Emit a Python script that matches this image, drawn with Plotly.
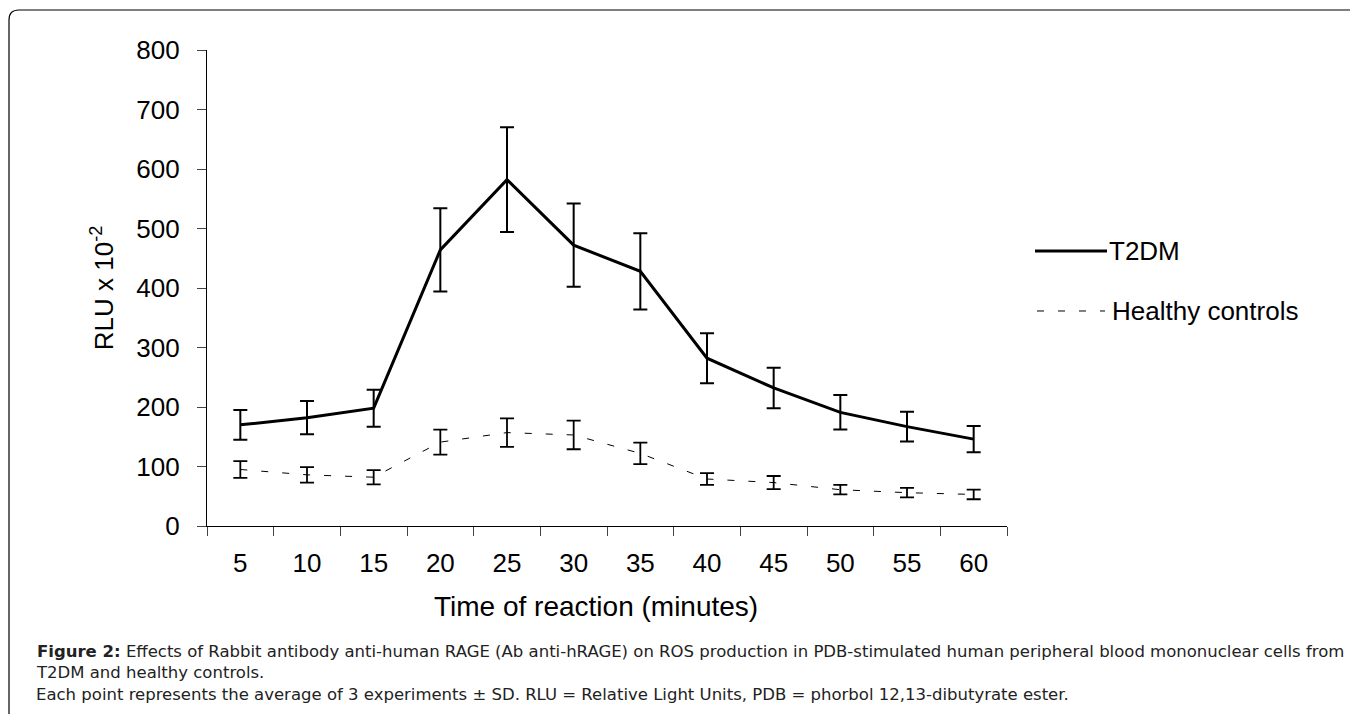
import plotly.graph_objects as go

# ---- data ----
times = ["5", "10", "15", "20", "25", "30", "35", "40", "45", "50", "55", "60"]
t2dm = [170, 182, 198, 464, 582, 472, 428, 282, 232, 191, 167, 146]
t2dm_sd = [25, 28, 31, 70, 88, 70, 64, 42, 34, 29, 25, 22]
healthy = [95, 86, 82, 141, 157, 153, 122, 79, 73, 61, 56, 53]
healthy_sd = [14, 13, 12, 21, 24, 24, 18, 10, 11, 8, 8, 8]

y_ticks = [0, 100, 200, 300, 400, 500, 600, 700, 800]

FONT = "Liberation Sans, Arial, sans-serif"
CAP_FONT = "DejaVu Sans, Liberation Sans, sans-serif"
CAP = 16.5

fig = go.Figure()
fig.add_trace(go.Scatter(
    x=times, y=t2dm, mode="lines", name="T2DM",
    line=dict(color="black", width=3),
    error_y=dict(type="data", array=t2dm_sd, visible=True,
                 color="black", thickness=2, width=7),
    showlegend=False,
))
fig.add_trace(go.Scatter(
    x=times, y=healthy, mode="lines", name="Healthy controls",
    line=dict(color="black", width=1, dash="7px,14px"),
    error_y=dict(type="data", array=healthy_sd, visible=True,
                 color="black", thickness=1.8, width=7),
    showlegend=False,
))

# page body has an 8px margin, so the figure is 8px smaller/shifted
fig.update_layout(
    width=1342, height=706,
    margin=dict(l=199, r=343, t=42, b=188),
    paper_bgcolor="white", plot_bgcolor="white",
    font=dict(family=FONT, color="black"),
    xaxis=dict(
        type="category", categoryorder="array", categoryarray=times,
        range=[-0.5, 11.5], tickson="boundaries",
        ticks="outside", ticklen=9, tickcolor="#444", tickwidth=1,
        showline=True, linecolor="black", linewidth=1.3,
        showgrid=False, zeroline=False,
        tickfont=dict(size=26, family=FONT, color="black"),
        ticklabelstandoff=14,
    ),
    yaxis=dict(
        range=[0, 800], tickvals=y_ticks,
        ticks="outside", ticklen=9, tickcolor="#444", tickwidth=1,
        showline=True, linecolor="black", linewidth=1.3,
        showgrid=False, zeroline=False,
        tickfont=dict(size=26, family=FONT, color="black"),
        ticklabelstandoff=12,
    ),
)

annotations = [
    dict(text="RLU x 10<sup>-2</sup>", x=-0.131, y=0.5, textangle=-90,
         font=dict(size=26)),
    dict(text="Time of reaction (minutes)", x=0.486, y=-0.170,
         font=dict(size=28)),
    dict(text="T2DM", x=1.1245, y=0.5777, xanchor="left",
         font=dict(size=26)),
    dict(text="Healthy controls", x=1.1285, y=0.4517, xanchor="left",
         font=dict(size=26)),
    dict(text="<b>Figure 2:</b> Effects of Rabbit antibody anti-human RAGE (Ab anti-hRAGE) on ROS production in PDB-stimulated human peripheral blood mononuclear cells from"
              "<br>T2DM and healthy controls.",
         x=-0.216, y=-0.2858, xanchor="left", align="left",
         font=dict(size=CAP, color="#222", family=CAP_FONT)),
    dict(text="Each point represents the average of 3 experiments ± SD. RLU = Relative Light Units, PDB = phorbol 12,13-dibutyrate ester.",
         x=-0.216, y=-0.354, xanchor="left", align="left",
         font=dict(size=CAP, color="#222", family=CAP_FONT)),
]
for a in annotations:
    a.update(xref="paper", yref="paper", showarrow=False)
    if "xanchor" not in a:
        a["xanchor"] = "center"
    a["yanchor"] = "middle"
    a["font"].setdefault("family", FONT)
    a["font"].setdefault("color", "black")
    fig.add_annotation(**a)

# legend samples
fig.add_shape(type="line", xref="paper", yref="paper",
              x0=1.035, x1=1.125, y0=0.5777, y1=0.5777,
              line=dict(color="black", width=3))
fig.add_shape(type="line", xref="paper", yref="paper",
              x0=1.0375, x1=1.1225, y0=0.4517, y1=0.4517,
              line=dict(color="black", width=1, dash="7px,14px"))

# rounded frame (top and left edges)
fig.add_shape(type="path", xref="paper", yref="paper",
              path="M -0.2475,-0.45 L -0.2475,1.063 Q -0.2475,1.084 -0.235,1.084 L 1.431,1.084",
              line=dict(color="black", width=1.2))

fig.write_html("out.html")
